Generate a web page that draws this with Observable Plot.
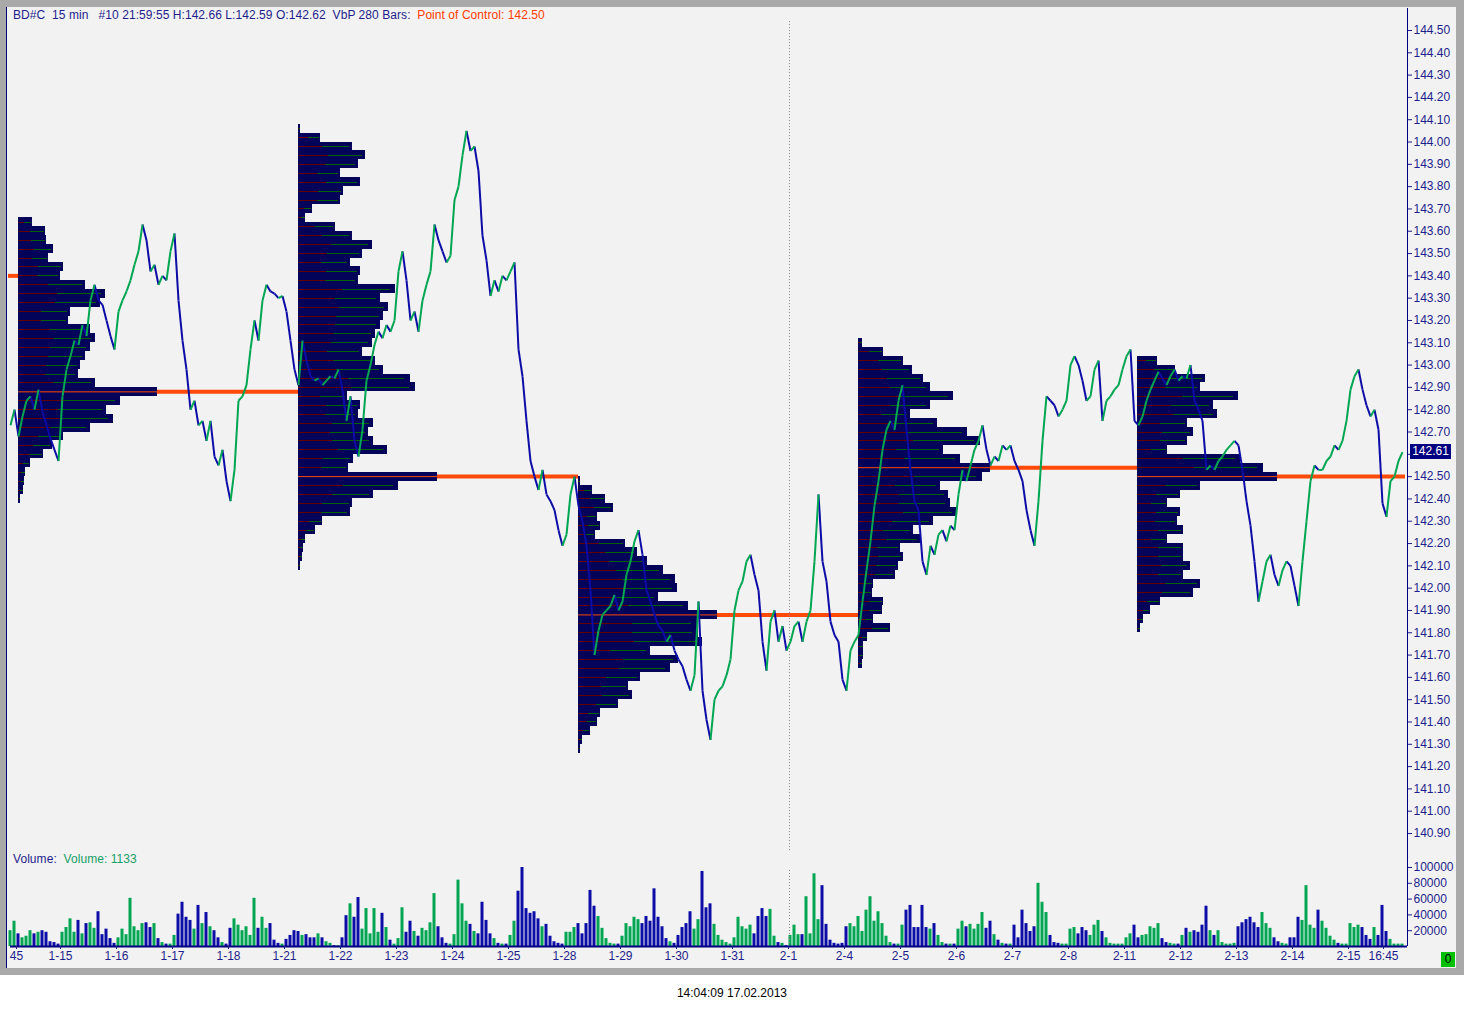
<!DOCTYPE html>
<html>
<head>
<meta charset="utf-8">
<script src="https://cdn.jsdelivr.net/npm/d3@7"></script>
<script src="https://cdn.jsdelivr.net/npm/@observablehq/plot@0.6"></script>
<style>
  body { margin: 0; background: #fff; font-family: "Liberation Sans", Arial, sans-serif; font-size: 12px; }
  #frame { position: absolute; left: 0; top: 0; width: 1464px; height: 975px; background: #a9a9a9; }
  #panel { position: absolute; left: 6px; top: 7px; width: 1449px; height: 961px; background: #f2f2f2; border-left: 1px solid #00007a; }
  #price, #volume { position: absolute; left: 0; }
  #price { top: 8px; }
  #volume { top: 850px; }
  .lbl { position: absolute; white-space: pre; color: #1e1e8c; line-height: 14px; letter-spacing: 0.06px; }
  #last { position: absolute; left: 1410px; width: 41px; height: 15px; background: #000080; color: #fff; text-align: center; line-height: 15px; }
  #zero { position: absolute; left: 1441px; top: 952px; width: 14px; height: 15px; background: #00c000; color: #000; text-align: center; line-height: 15px; }
  #stamp { position: absolute; left: 0; width: 1464px; top: 986px; text-align: center; color: #000; }
</style>
</head>
<body>
<div id="frame"><div id="panel"></div></div>
<div id="price"></div>
<div id="volume"></div>
<div class="lbl" style="left:13px;top:8px">BD#C  15 min   #10 21:59:55 H:142.66 L:142.59 O:142.62  VbP 280 Bars:  <span style="color:#ff3c00">Point of Control: 142.50</span></div>
<div class="lbl" style="left:13px;top:852px">Volume:  <span style="color:#16a067">Volume: 1133</span></div>
<div id="last">142.61</div>
<div id="zero">0</div>
<div id="stamp">14:04:09 17.02.2013</div>
<script>
// 15-min bars, one bar number per bar, sampled every 4 bars
const firstBar = 10, barStep = 4;

const price = [
  142.73,142.80,142.68,142.77,142.84,142.86,142.80,142.89,142.79,142.73,142.67,142.62,142.57,
  142.86,142.98,143.04,143.11,143.09,143.18,143.13,143.29,143.36,143.29,143.27,143.20,143.13,143.07,
  143.24,143.29,143.33,143.38,143.45,143.51,143.63,143.56,143.42,143.45,143.36,143.40,143.38,143.51,
  143.59,143.29,143.11,142.98,142.80,142.84,142.73,142.75,142.66,142.75,142.59,142.55,142.62,142.48,
  142.39,142.53,142.84,142.86,142.91,143.07,143.20,143.11,143.29,143.36,143.33,143.32,143.30,143.31,
  143.24,143.11,142.98,142.91,143.11,143.02,142.95,142.93,142.94,142.91,142.93,142.95,142.94,142.98,
  142.89,142.75,142.86,142.66,142.59,142.71,142.93,143.00,143.09,143.15,143.12,143.18,143.15,143.20,
  143.42,143.51,143.38,143.20,143.24,143.15,143.29,143.36,143.42,143.63,143.56,143.51,143.46,143.49,
  143.74,143.80,143.94,144.05,143.96,143.98,143.87,143.58,143.47,143.31,143.38,143.33,143.40,143.38,
  143.42,143.46,143.07,142.95,142.75,142.57,142.50,142.44,142.53,142.42,142.39,142.35,142.26,142.19,
  142.24,142.42,142.50,142.37,142.30,142.19,141.99,141.70,141.81,141.88,141.90,141.92,141.97,141.90,
  141.94,142.06,142.12,142.21,142.26,142.15,141.99,141.94,141.88,141.83,141.81,141.76,141.79,141.72,
  141.68,141.65,141.59,141.54,141.61,141.94,141.54,141.41,141.32,141.50,141.54,141.56,141.61,141.68,
  141.90,141.99,142.03,142.12,142.15,142.06,141.99,141.76,141.63,141.85,141.90,141.76,141.83,141.72,
  141.76,141.83,141.85,141.76,141.85,141.90,142.12,142.42,142.12,142.03,141.85,141.79,141.76,141.59,
  141.54,141.72,141.76,141.79,141.94,142.08,142.21,142.37,142.48,142.62,142.71,142.75,142.71,142.84,
  142.91,142.71,142.53,142.39,142.35,142.12,142.06,142.19,142.15,142.24,142.26,142.21,142.28,142.26,
  142.42,142.53,142.48,142.55,142.62,142.66,142.73,142.62,142.55,142.59,142.57,142.64,142.62,142.64,
  142.57,142.53,142.48,142.35,142.26,142.19,142.39,142.66,142.86,142.84,142.82,142.77,142.80,142.84,
  143.00,143.04,143.00,142.93,142.84,142.86,142.98,143.02,142.75,142.84,142.86,142.89,142.91,142.98,
  143.04,143.07,142.75,142.73,142.77,142.84,142.89,142.93,142.97,142.94,142.91,142.95,142.98,142.93,
  142.95,142.94,143.00,142.84,142.80,142.75,142.53,142.55,142.53,142.57,142.59,142.62,142.64,142.66,
  142.64,142.53,142.39,142.28,142.12,141.94,142.03,142.12,142.15,142.06,142.01,142.08,142.12,142.10,
  142.01,141.92,142.12,142.30,142.48,142.55,142.53,142.53,142.57,142.59,142.64,142.62,142.66,142.75,
  142.89,142.95,142.98,142.89,142.82,142.77,142.80,142.71,142.38,142.32,142.48,142.50,142.57,142.61
];

// volume per sample, thousands of contracts
const volumeK = [
  20,32,16,11,13,20,16,18,20,18,6,5,3,
  18,24,35,18,33,16,29,30,23,44,15,22,10,4,
  11,22,15,61,25,20,29,30,24,29,10,5,3,3,
  14,41,56,37,33,22,52,29,43,25,20,11,5,3,
  23,35,27,20,25,14,61,23,37,23,29,8,4,3,
  9,14,20,19,14,15,11,11,16,11,6,4,1,1,
  11,39,54,37,62,22,48,16,48,18,42,24,8,3,
  10,49,18,32,19,13,23,20,30,67,25,11,4,3,
  15,84,54,32,28,19,16,56,33,16,10,4,3,3,
  14,32,70,100,48,42,44,35,25,28,13,6,4,3,
  18,18,24,29,16,29,71,51,38,23,10,4,3,3,
  13,29,25,37,34,29,38,32,73,37,25,10,6,4,
  14,24,29,44,22,34,95,49,54,28,14,8,5,3,
  11,37,25,22,27,16,38,48,38,47,13,5,4,1,
  14,27,15,15,63,16,92,34,77,28,8,4,3,4,
  25,29,25,38,19,46,63,32,44,29,13,5,3,3,
  27,46,52,24,24,52,24,22,29,14,5,3,3,3,
  22,32,25,28,22,28,43,23,32,15,8,4,3,3,
  27,11,46,29,19,25,80,56,43,14,5,4,3,3,
  22,24,16,24,20,14,27,33,19,11,4,3,3,3,
  11,16,27,11,14,15,25,23,29,10,5,4,3,3,
  14,23,18,20,18,27,51,20,14,20,5,3,3,4,
  25,30,34,37,30,24,43,29,23,11,6,4,3,11,
  11,37,33,77,27,23,46,32,23,13,8,4,3,3,
  29,24,27,24,14,9,24,14,52,19,9,3,3,3
];

// weekly volume-at-price profiles, 0.04 levels from the top level down
const levelStep = 0.04;
const profileStart = [18, 298, 578, 858, 1137];
const profileEnd = [298, 578, 858, 1137, 1405];
const profileTop = [143.64, 144.06, 142.48, 143.10, 143.02];
const vbp1 = [14,27,28,35,30,45,42,67,87,82,52,50,72,77,72,67,62,60,77,139,102,88,95,72,45,34,25,12,7,6,5,2];
const vbp2 = [2,22,54,67,60,42,62,45,42,14,7,37,54,74,64,52,62,60,97,82,90,85,82,77,74,64,77,85,112,117,49,62,60,75,70,75,89,55,50,139,100,75,54,52,24,17,7,5,4,2];
const vbp3 = [2,14,27,35,19,22,17,47,59,69,85,97,99,80,110,139,119,120,124,72,100,92,62,50,54,40,22,19,12,4,2];
const vbp4 = [4,25,45,54,65,72,95,72,52,79,109,122,85,102,132,124,82,90,92,99,75,55,62,42,45,40,37,15,14,25,24,15,32,9,5,5,4];
const vbp5 = [20,38,68,63,101,76,80,50,56,50,30,103,126,140,63,43,30,43,40,46,30,46,46,53,46,63,56,23,13,6,3];
const profiles = [vbp1, vbp2, vbp3, vbp4, vbp5];
const priorPoc = {price: 143.40, from: 8, to: 18};

const priceTicks = [140.9,141.0,141.1,141.2,141.3,141.4,141.5,141.6,141.7,141.8,141.9,142.0,142.1,142.2,142.3,142.4,142.5,142.6,142.7,142.8,142.9,143.0,143.1,143.2,143.3,143.4,143.5,143.6,143.7,143.8,143.9,144.0,144.1,144.2,144.3,144.4,144.5];
const volumeTicks = [20000, 40000, 60000, 80000, 100000];
const dayBars = [16,60,116,172,228,284,340,396,452,508,564,620,676,732,788,844,900,956,1012,1068,1124,1180,1236,1292,1348,1383];
const dayLabels = ["45","1-15","1-16","1-17","1-18","1-21","1-22","1-23","1-24","1-25","1-28","1-29","1-30","1-31","2-1","2-4","2-5","2-6","2-7","2-8","2-11","2-12","2-13","2-14","2-15","16:45"];
const cursorBar = 789;
const axisBar = 1407;
const lastPrice = 142.61;

const navy = "#1e1e8c";
const upColor = "#00a651";
const downColor = "#0c0ca6";
const pocColor = "#ff4a0a";

const bars = price.map((p, i) => ({bar: firstBar + i * barStep, p}));
const segs = bars.slice(1).map((d, i) => ({x1: bars[i].bar, y1: bars[i].p, x2: d.bar, y2: d.p, up: d.p >= bars[i].p}));
const vols = volumeK.map((v, i) => ({bar: firstBar + i * barStep, v: v * 1000, up: i === 0 || price[i] >= price[i - 1]}));

const rows = profiles.flatMap((vs, k) => {
  const max = d3.max(vs);
  return vs.map((v, j) => ({k, start: profileStart[k], price: +(profileTop[k] - j * levelStep).toFixed(2), v, poc: v === max}));
});
const pocRows = rows.filter(d => d.poc);
const labelOf = new Map(dayBars.map((b, i) => [b, dayLabels[i]]));
// the 142.60 label sits under the last-price marker
const hiddenTick = d => Math.abs(d - lastPrice) < 0.05 && d < lastPrice;

const font = {background: "transparent", fontFamily: "Liberation Sans, Arial, sans-serif", fontSize: "12px", color: navy, overflow: "visible"};

const priceChart = Plot.plot({
  width: 1464, height: 850,
  marginLeft: 0, marginRight: 57, marginTop: 0, marginBottom: 0,
  x: {domain: [0, axisBar], axis: null},
  y: {domain: [140.788, 144.5986], axis: null},
  style: font,
  marks: [
    Plot.rect(rows, {x1: "start", x2: d => d.start + d.v, y1: d => d.price - levelStep / 2, y2: d => d.price + levelStep / 2, fill: "#03035a", shapeRendering: "crispEdges"}),
    Plot.ruleY(rows.filter(d => !d.poc), {y: "price", x1: "start", x2: d => d.start + d.v * 0.45, stroke: "#650000", strokeWidth: 1, shapeRendering: "crispEdges"}),
    Plot.ruleY(rows.filter(d => !d.poc), {y: "price", x1: d => d.start + d.v * 0.45, x2: d => d.start + d.v * 0.95, stroke: "#056005", strokeWidth: 1, shapeRendering: "crispEdges"}),
    Plot.ruleY(pocRows, {y: "price", x1: "start", x2: d => d.start + d.v, stroke: pocColor, strokeWidth: 1}),
    Plot.ruleY(pocRows, {y: "price", x1: d => d.start + d.v, x2: d => profileEnd[d.k], stroke: pocColor, strokeWidth: 4}),
    Plot.ruleY([priorPoc], {y: "price", x1: "from", x2: "to", stroke: pocColor, strokeWidth: 4}),
    Plot.ruleX([cursorBar], {y1: 144.54, y2: 140.82, stroke: "#8a8a8a", strokeDasharray: "1,2"}),
    Plot.link(segs.filter(d => !d.up), {x1: "x1", y1: "y1", x2: "x2", y2: "y2", stroke: downColor, strokeWidth: 2}),
    Plot.link(segs.filter(d => d.up), {x1: "x1", y1: "y1", x2: "x2", y2: "y2", stroke: upColor, strokeWidth: 2}),
    Plot.ruleX([axisBar], {stroke: "#000080"}),
    Plot.axisY({anchor: "right", ticks: priceTicks, tickFormat: d => hiddenTick(d) ? "" : d.toFixed(2), tickSize: 4, tickPadding: 2, label: null})
  ]
});
document.getElementById("price").append(priceChart);

const volumeChart = Plot.plot({
  width: 1464, height: 118,
  marginLeft: 0, marginRight: 57, marginTop: 0, marginBottom: 22,
  x: {domain: [0, axisBar]},
  y: {domain: [0, 121519], axis: null},
  style: font,
  marks: [
    Plot.rectY(vols.filter(d => d.up), {x1: d => d.bar - 1.5, x2: d => d.bar + 1.5, y: "v", fill: upColor}),
    Plot.rectY(vols.filter(d => !d.up), {x1: d => d.bar - 1.5, x2: d => d.bar + 1.5, y: "v", fill: downColor}),
    Plot.ruleX([cursorBar], {y1: 0, y2: 98000, stroke: "#8a8a8a", strokeDasharray: "1,2"}),
    Plot.ruleY([0], {x1: firstBar, x2: axisBar, stroke: "#000080", strokeWidth: 2}),
    Plot.ruleX([axisBar], {y1: 0, y2: 121519, stroke: "#000080"}),
    Plot.axisY({anchor: "right", ticks: volumeTicks, tickFormat: d => String(d), tickSize: 4, tickPadding: 2, label: null}),
    Plot.axisX({ticks: dayBars, tickFormat: d => labelOf.get(d), tickSize: 3, tickPadding: 2, label: null})
  ]
});
document.getElementById("volume").append(volumeChart);

// current price marker on the price axis
const yPos = priceChart.scale("y").apply(lastPrice);
document.getElementById("last").style.top = (8 + yPos - 7.5) + "px";
</script>
</body>
</html>
